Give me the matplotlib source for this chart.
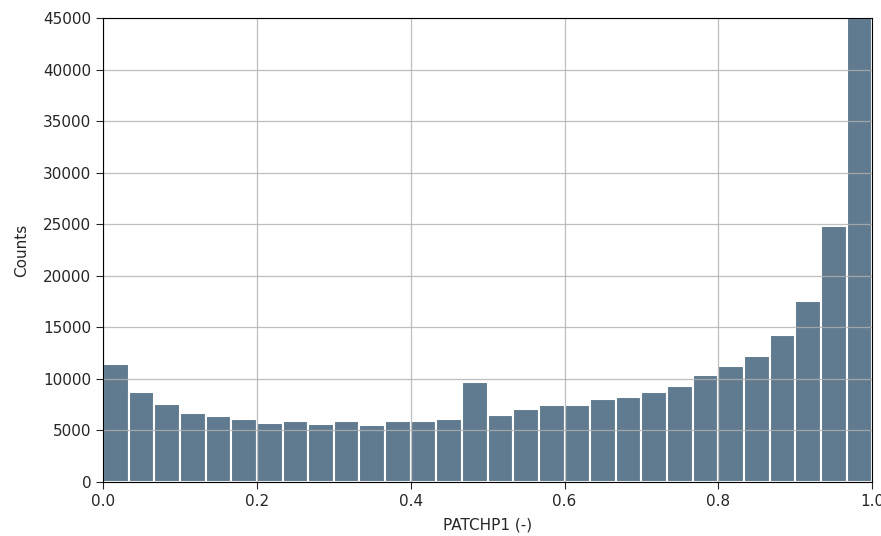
import numpy as np
import matplotlib
matplotlib.use("Agg")
import matplotlib.pyplot as plt

bin_edges = np.linspace(0.0, 1.0, 31)
counts = [11400, 8700, 7530, 6690, 6430, 6080, 5750, 5885, 5625, 5885,
          5495, 5885, 5885, 6080, 9730, 6470, 7050, 7500, 7500, 8080,
          8210, 8700, 9280, 10350, 11280, 12220, 14230, 17520, 24860, 60000]
x_ticks = [0.0, 0.2, 0.4, 0.6, 0.8, 1.0]
y_ticks = list(range(0, 45001, 5000))

txt = "#262626"
fig = plt.figure(figsize=(8.81, 5.36), dpi=100)
ax = fig.add_axes([0.117, 0.1007, 0.873, 0.8657])

centers = (bin_edges[:-1] + bin_edges[1:]) / 2
ax.hist(centers, bins=bin_edges, weights=counts, rwidth=1.0,
        color="#607b8f", edgecolor="white", linewidth=1.5)

ax.set_xlim(0, 1)
ax.set_ylim(0, 45000)
ax.set_xticks(x_ticks)
ax.set_xticklabels([f"{t:.1f}" for t in x_ticks])
ax.set_yticks(y_ticks)
ax.set_axisbelow(False)
ax.grid(True, color="#b0b0b0", linewidth=0.9, alpha=0.8)
ax.tick_params(labelsize=11, direction="out", length=5, colors=txt)
ax.set_xlabel("PATCHP1 (-)", fontsize=11, color=txt, labelpad=6)
ax.set_ylabel("Counts", fontsize=11, color=txt, labelpad=10)
for s in ax.spines.values():
    s.set_color("black")
    s.set_zorder(3)

fig.savefig("out.png", dpi=100)
